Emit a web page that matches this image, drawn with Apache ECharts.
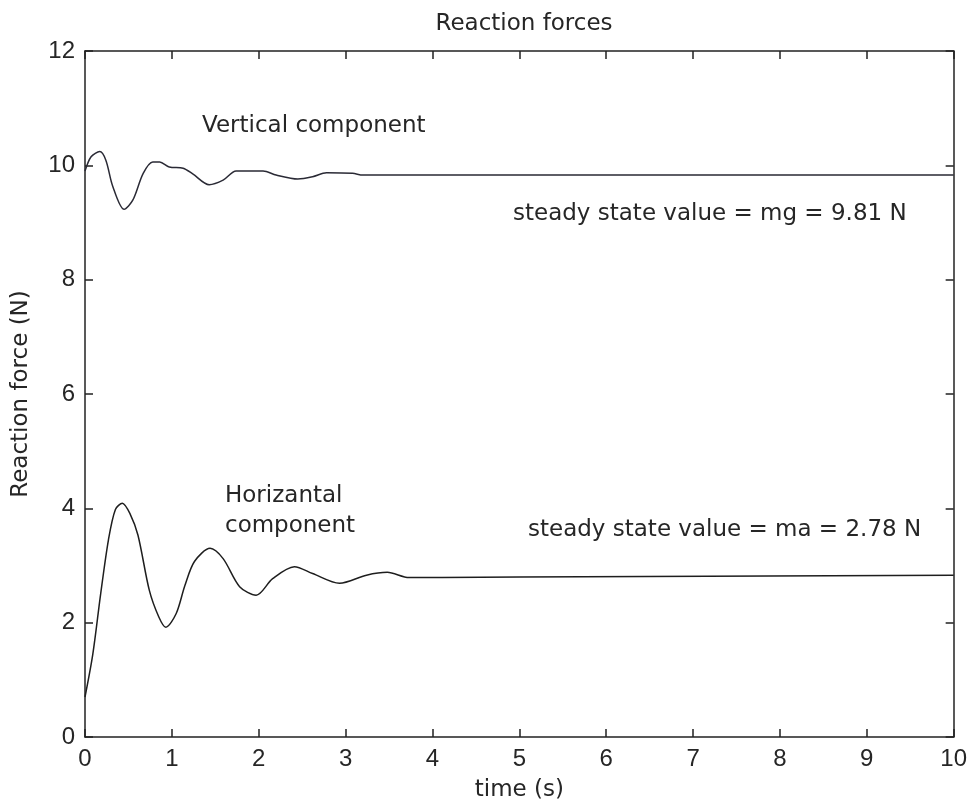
<html>
<head>
    <meta charset="utf-8">
    <title>Reaction forces</title>
    <script src="https://cdn.jsdelivr.net/npm/echarts@6.0.0/dist/echarts.min.js"></script>
    <style>
        body{margin:0;background:#fff;}
    </style>
</head>
<body>
    <div id="main" style="width:970px;height:808px;"></div>
</body>
</html>

<script>
    // vertical component (N) vs time (s)
    var timeV=[0,0.07,0.17,0.24,0.32,0.45,0.55,0.67,0.78,0.86,0.97,1.13,1.24,1.43,1.59,1.74,2.05,2.2,2.45,2.62,2.78,3.08,3.2,10];
    var forceV=[9.9,10.15,10.24,10.09,9.63,9.23,9.39,9.86,10.06,10.06,9.97,9.95,9.85,9.66,9.74,9.9,9.9,9.83,9.76,9.8,9.87,9.86,9.83,9.83];

    // horizontal component (N) vs time (s)
    var timeH=[0,0.09,0.18,0.27,0.35,0.43,0.52,0.61,0.74,0.85,0.93,1.05,1.15,1.26,1.44,1.59,1.78,1.97,2.16,2.41,2.62,2.93,3.24,3.48,3.73,4.11,5,10];
    var forceH=[0.7,1.45,2.5,3.45,3.98,4.09,3.9,3.53,2.57,2.1,1.92,2.16,2.65,3.07,3.3,3.12,2.63,2.48,2.77,2.98,2.86,2.69,2.83,2.88,2.79,2.79,2.8,2.83];

    var xTicks=[0,1,2,3,4,5,6,7,8,9,10];
    var yTicks=[0,2,4,6,8,10,12];

    var textFont='DejaVu Sans';
    var ink='#262626';

    function pairs(xs,ys){
        var out=[];
        for(var i=0;i<xs.length;i++){
            out.push([xs[i],ys[i]]);
        }
        return out;
    }

    window.onload=function(){
        var myChart=echarts.init(document.getElementById('main'),null,{renderer:'canvas'});

        var tickStyle={inside:true,length:8,lineStyle:{color:'#222',width:1.5}};
        var lineStyle={color:'#222',width:1.5};

        var option={
            backgroundColor:'#fff',
            animation:false,
            title:{
                text:'Reaction forces',
                left:519,
                textAlign:'center',
                top:8,
                textStyle:{fontFamily:textFont,fontSize:23,fontWeight:'normal',color:ink}
            },
            grid:{left:85,right:16,top:51,bottom:71},
            xAxis:[{
                type:'value',
                min:xTicks[0],
                max:xTicks[xTicks.length-1],
                interval:1,
                position:'bottom',
                name:'time (s)',
                nameLocation:'middle',
                nameGap:42,
                nameTextStyle:{fontFamily:textFont,fontSize:23,color:ink},
                axisLine:{onZero:false,lineStyle:lineStyle},
                axisTick:tickStyle,
                axisLabel:{margin:10,fontFamily:'Liberation Sans',fontSize:24,color:ink},
                splitLine:{show:false}
            },{
                type:'value',
                min:xTicks[0],
                max:xTicks[xTicks.length-1],
                interval:1,
                position:'top',
                axisLine:{onZero:false,lineStyle:lineStyle},
                axisTick:tickStyle,
                axisLabel:{show:false},
                splitLine:{show:false}
            }],
            yAxis:[{
                type:'value',
                min:yTicks[0],
                max:yTicks[yTicks.length-1],
                interval:2,
                position:'left',
                name:'Reaction force (N)',
                nameLocation:'middle',
                nameGap:52,
                nameTextStyle:{fontFamily:textFont,fontSize:23,color:ink},
                axisLine:{onZero:false,lineStyle:lineStyle},
                axisTick:tickStyle,
                axisLabel:{margin:10,fontFamily:'Liberation Sans',fontSize:24,color:ink},
                splitLine:{show:false}
            },{
                type:'value',
                min:yTicks[0],
                max:yTicks[yTicks.length-1],
                interval:2,
                position:'right',
                axisLine:{onZero:false,lineStyle:lineStyle},
                axisTick:tickStyle,
                axisLabel:{show:false},
                splitLine:{show:false}
            }],
            series:[{
                name:'Vertical component',
                type:'line',
                data:pairs(timeV,forceV),
                showSymbol:false,
                smooth:0.3,
                lineStyle:{color:'#2a2a35',width:1.5}
            },{
                name:'Horizontal component',
                type:'line',
                data:pairs(timeH,forceH),
                showSymbol:false,
                smooth:0.3,
                lineStyle:{color:'#1e1e1e',width:1.5}
            }],
            graphic:[
                {type:'text',x:202,y:126,style:{text:'Vertical component',font:'23px DejaVu Sans',fill:ink,verticalAlign:'middle'}},
                {type:'text',x:513,y:214,style:{text:'steady state value = mg = 9.81 N',font:'23px DejaVu Sans',fill:ink,verticalAlign:'middle'}},
                {type:'text',x:225,y:496,style:{text:'Horizantal',font:'23px DejaVu Sans',fill:ink,verticalAlign:'middle'}},
                {type:'text',x:225,y:526,style:{text:'component',font:'23px DejaVu Sans',fill:ink,verticalAlign:'middle'}},
                {type:'text',x:528,y:530,style:{text:'steady state value = ma = 2.78 N',font:'23px DejaVu Sans',fill:ink,verticalAlign:'middle'}}
            ]
        };

        myChart.setOption(option);
    }
</script>
